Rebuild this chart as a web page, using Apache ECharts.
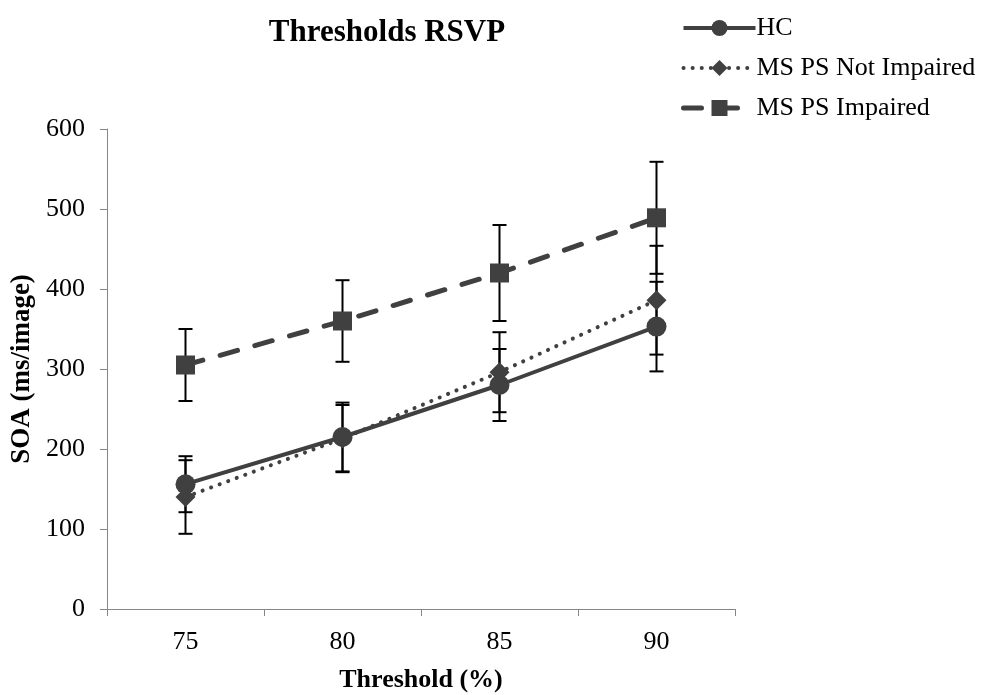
<!DOCTYPE html>
<html>
<head>
<meta charset="utf-8">
<script src="https://cdn.jsdelivr.net/npm/echarts@6/dist/echarts.min.js"></script>
<style>
  html, body { margin: 0; padding: 0; background: #fff; }
  #chart { width: 986px; height: 695px; }
</style>
</head>
<body>
<div id="chart"></div>
<script>
// values
const thresholds = ['75', '80', '85', '90']
const hcMean = [156, 215, 280, 353]
const hcErr = [35, 43, 45, 56]
const notImpMean = [140, 213, 296, 386]
const notImpErr = [46, 42, 50, 68]
const impMean = [305, 360, 420, 489]
const impErr = [45, 51, 60, 70]

const serif = '"Liberation Serif", "Times New Roman", serif'
const ink = '#404040'

const errorBars = function (name, mean, err) {
  return {
    name: name + ' err',
    type: 'custom',
    z: 1,
    silent: true,
    data: mean.map((m, i) => [i, m - err[i], m + err[i]]),
    renderItem: function (params, api) {
      const lo = api.coord([api.value(0), api.value(1)])
      const hi = api.coord([api.value(0), api.value(2)])
      const half = 7
      const style = { stroke: '#000', lineWidth: 2 }
      return {
        type: 'group',
        children: [
          { type: 'line', shape: { x1: hi[0], y1: hi[1], x2: lo[0], y2: lo[1] }, style },
          { type: 'line', shape: { x1: hi[0] - half, y1: hi[1], x2: hi[0] + half, y2: hi[1] }, style },
          { type: 'line', shape: { x1: lo[0] - half, y1: lo[1], x2: lo[0] + half, y2: lo[1] }, style }
        ]
      }
    }
  }
}

const chart = echarts.init(document.getElementById('chart'))

chart.setOption({
  animation: false,
  title: {
    text: 'Thresholds RSVP',
    left: 382,
    textAlign: 'center',
    top: 12,
    textStyle: { fontFamily: serif, fontSize: 31, fontWeight: 'bold', color: '#000' }
  },
  legend: {
    orient: 'vertical',
    left: 676,
    top: 10,
    itemWidth: 72,
    itemHeight: 20,
    itemGap: 14,
    lineStyle: { width: 'inherit' },
    data: ['HC', 'MS PS Not Impaired', 'MS PS Impaired'],
    textStyle: { fontFamily: serif, fontSize: 26, color: '#000', padding: [0, 0, 0, -4] }
  },
  grid: { left: 107, right: 251, top: 129, bottom: 86, outerBoundsMode: 'none' },
  xAxis: {
    type: 'category',
    data: thresholds,
    boundaryGap: true,
    name: 'Threshold (%)',
    nameLocation: 'middle',
    nameGap: 58,
    nameTextStyle: { fontFamily: serif, fontSize: 26, fontWeight: 'bold', color: '#000' },
    axisLine: { lineStyle: { color: '#868686', width: 1 } },
    axisTick: { show: true, length: 7, lineStyle: { color: '#868686' } },
    axisLabel: { fontFamily: serif, fontSize: 26, color: '#000', margin: 20 }
  },
  yAxis: {
    type: 'value',
    min: 0,
    max: 600,
    interval: 100,
    name: 'SOA (ms/image)',
    nameLocation: 'middle',
    nameGap: 62,
    nameTextStyle: { fontFamily: serif, fontSize: 27, fontWeight: 'bold', color: '#000' },
    axisLine: { show: true, lineStyle: { color: '#868686', width: 1 } },
    axisTick: { show: true, length: 7, lineStyle: { color: '#868686' } },
    axisLabel: { fontFamily: serif, fontSize: 26, color: '#000', margin: 22 },
    splitLine: { show: false }
  },
  series: [
    errorBars('HC', hcMean, hcErr),
    errorBars('MS PS Not Impaired', notImpMean, notImpErr),
    errorBars('MS PS Impaired', impMean, impErr),
    {
      name: 'HC',
      type: 'line',
      z: 3,
      data: hcMean,
      symbol: 'circle',
      symbolSize: 20,
      itemStyle: { color: ink },
      lineStyle: { color: ink, width: 4 }
    },
    {
      name: 'MS PS Not Impaired',
      type: 'line',
      z: 2,
      data: notImpMean,
      symbol: 'diamond',
      symbolSize: 20,
      itemStyle: { color: ink },
      lineStyle: { color: ink, width: 4, type: [0.1, 9], cap: 'round' }
    },
    {
      name: 'MS PS Impaired',
      type: 'line',
      z: 2,
      data: impMean,
      symbol: 'rect',
      symbolSize: 19,
      itemStyle: { color: ink },
      lineStyle: { color: ink, width: 5, type: [18, 18], cap: 'round' }
    }
  ]
})
</script>
</body>
</html>
